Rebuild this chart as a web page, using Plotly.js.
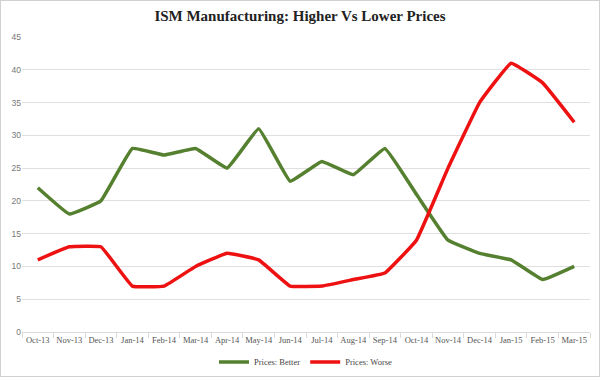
<!DOCTYPE html>
<html><head><meta charset="utf-8">
<script src="https://cdn.plot.ly/plotly-3.0.1.min.js"></script>
<style>
html,body{margin:0;padding:0;background:#fff;}
#wrap{position:relative;width:600px;height:377px;}
#chart{position:absolute;left:0;top:0;width:600px;height:377px;}
#frame{position:absolute;left:0;top:0;width:600px;height:377px;box-sizing:border-box;border:1px solid #d0d0d0;pointer-events:none;}
</style></head>
<body>
<div id="wrap"><div id="chart"></div><div id="frame"></div></div>
<script>
const months = ["Oct-13","Nov-13","Dec-13","Jan-14","Feb-14","Mar-14","Apr-14","May-14","Jun-14","Jul-14","Aug-14","Sep-14","Oct-14","Nov-14","Dec-14","Jan-15","Feb-15","Mar-15"];
const pricesBetter = [22,18,20,28,27,28,25,31,23,26,24,28,21,14,12,11,8,10];
const pricesWorse = [11,13,13,7,7,10,12,11,7,7,8,9,14,25,35,41,38,32];
const yTicks = [0,5,10,15,20,25,30,35,40,45];

const traces = [
  {x: months, y: pricesBetter, name: "Prices: Better", type: "scatter", mode: "lines",
   line: {color: "#55802f", width: 3.5, shape: "spline", smoothing: 0.25}},
  {x: months, y: pricesWorse, name: "Prices: Worse", type: "scatter", mode: "lines",
   line: {color: "#ee1111", width: 3.5, shape: "spline", smoothing: 0.25}}
];
const layout = {
  width: 600, height: 377,
  margin: {l: 22, r: 10, t: 37, b: 45},
  paper_bgcolor: "#fff", plot_bgcolor: "#fff",
  title: {text: "<b>ISM Manufacturing: Higher Vs Lower Prices</b>", x: 0.5, xanchor: "center", y: 0.957, yanchor: "middle",
          font: {family: "Liberation Serif, serif", size: 15, color: "#222"}},
  xaxis: {type: "category", showgrid: false, showline: true, linecolor: "#d9d9d9", linewidth: 1,
          ticks: "outside", tickson: "boundaries", ticklen: 5, tickcolor: "#d9d9d9",
          tickangle: 0, tickfont: {family: "Liberation Serif, serif", size: 8.5, color: "#555"}, zeroline: false,
          range: [-0.5, 17.5], automargin: false},
  yaxis: {range: [0, 45], tickvals: yTicks, showgrid: true, gridcolor: "#e0e0e0", gridwidth: 1,
          zeroline: false, showline: false, automargin: false,
          tickfont: {family: "Liberation Sans, sans-serif", size: 8.5, color: "#777"}, ticklen: 0},
  showlegend: true,
  legend: {orientation: "h", x: 0.5, xanchor: "center", xref: "paper", yref: "container", y: 0.04, yanchor: "middle",
           font: {family: "Liberation Serif, serif", size: 8.5, color: "#444"}, tracegroupgap: 0}
};
Plotly.newPlot("chart", traces, layout, {displayModeBar: false, staticPlot: true});
</script>
</body></html>
